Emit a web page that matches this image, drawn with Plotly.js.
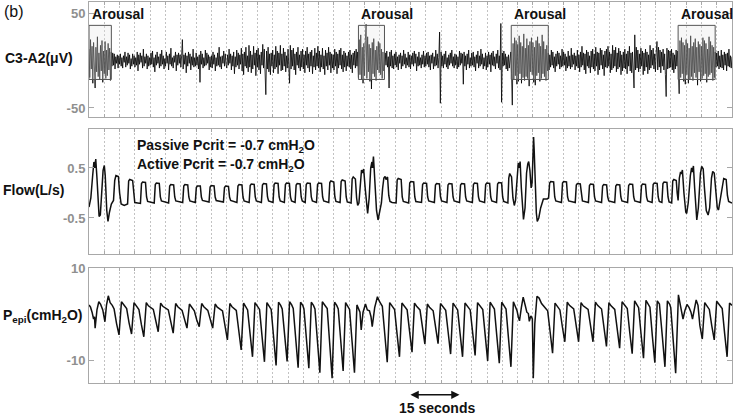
<!DOCTYPE html>
<html><head><meta charset="utf-8">
<script src="https://cdn.plot.ly/plotly-3.0.1.min.js"></script>
<style>html,body{margin:0;padding:0;background:#fff}#chart{width:735px;height:415px}</style>
</head><body><div id="chart"></div>
<script>
// ---- EEG C3-A2 (µV), one value every 0.25 s from t = 0 s ----
const eegStep = 0.25;
const eegVals = [
12,-18,22,-9,15,-24,19,-6,-29,14,-12,25,-17,8,-20,16,-11,21,-23,10,
-14,20,-19,11,-16,18,-10,13,-21,9,-6,8,-5,7,-9,4,-3,6,-8,5,
-4,7,-6,3,-8,5,-2,9,-7,4,-5,8,-3,6,-9,2,-6,7,-4,5,
-7,3,-5,9,-11,6,-4,8,-2,5,-8,12,-6,4,-3,7,-9,5,-6,3,
-5,8,-4,10,-7,3,-12,6,-5,9,-3,4,-8,7,-6,11,-4,5,-9,2,
-6,9,-3,5,-10,7,-4,13,-6,3,-8,5,-2,9,-11,6,-5,8,-3,6,
-7,5,22,-9,6,-4,8,-13,5,-6,9,-3,7,-10,4,-5,12,-7,3,-6,
8,-5,4,-9,6,-23,10,-4,7,-8,3,-6,11,-5,8,-3,6,-10,4,-7,
5,-8,9,-4,6,-11,3,-6,8,-5,14,-7,4,-9,5,-3,10,-6,7,-4,
-8,6,-5,12,-3,7,-10,5,-6,9,-14,4,-7,11,-5,8,-9,6,-4,13,
-11,7,-15,9,-6,14,-8,5,-12,16,-7,10,-13,6,-9,15,-5,8,-16,11,
-7,13,-10,6,-14,9,-5,17,-8,12,-6,-36,10,-9,14,-12,7,-15,8,-6,
11,-13,6,-9,15,-7,10,-14,8,-5,16,-11,7,-10,13,-6,9,-12,5,-8,
12,-7,-24,16,-9,11,-6,13,-10,7,-15,9,-5,14,-8,6,-11,10,-7,12,
-9,6,-13,10,-5,14,-8,7,-12,9,-6,11,-14,5,-7,13,-10,8,-6,15,
-8,10,-12,6,-7,13,-9,5,-15,11,-6,8,-10,14,-5,9,-13,7,-8,6,
-10,12,-6,9,-14,7,-8,11,-5,13,-9,6,-12,10,-7,8,-11,5,-6,9,
-7,11,-9,6,-13,8,-5,10,-8,12,-6,9,-18,22,-15,27,-20,14,-24,18,
-16,21,38,-19,25,-12,17,-22,13,-30,19,-14,23,-17,11,-21,15,-10,20,-13,
18,-15,12,-19,9,-11,-6,8,-5,10,-7,4,-29,9,-6,11,-8,5,-9,7,
-5,9,-7,4,-10,6,-3,8,-9,5,-6,11,-4,7,-8,3,-5,9,-7,6,
-9,5,-4,8,-6,10,-3,7,-11,4,-6,9,-5,3,-8,6,-4,10,-7,5,
-6,8,-4,9,-7,5,-10,6,-3,8,-9,4,-6,11,-5,7,-8,3,30,-45,
9,-6,5,-8,7,-4,10,-7,3,-9,6,-5,8,-3,11,-6,4,-8,7,-5,
6,-9,4,-7,10,-5,8,-3,7,-25,9,-6,5,-10,7,-4,11,-8,3,-6,
8,-5,9,-7,4,-11,6,-3,10,-8,5,-6,12,-4,7,-9,3,-6,8,-10,
5,-7,9,-4,6,-12,8,-5,10,-6,4,-9,7,-3,11,-8,5,-10,39,-44,
8,-6,10,-5,7,-9,4,-11,6,-8,5,9,-14,-47,18,-20,24,-16,21,-25,
17,-22,26,-14,19,-24,15,-18,28,-21,13,-17,23,-19,16,-27,20,-12,24,-15,
19,-23,14,-26,21,-16,25,-13,18,-22,15,-19,27,-14,20,-17,12,-21,16,-11,
8,-10,6,-7,11,-5,9,-8,4,-12,7,-6,10,-4,8,-9,5,-7,12,-6,
9,-5,7,-11,4,-8,10,-6,5,-9,13,-7,6,-4,8,-10,5,-6,11,-8,
6,-12,9,-7,15,-5,8,-10,7,-14,11,-6,9,-8,5,-13,10,-7,12,-9,
7,-11,14,-6,9,-15,8,-10,13,-5,11,-9,6,-16,10,-7,12,-8,15,-6,
9,-13,7,-10,16,-8,11,-6,14,-12,8,-9,13,-7,10,-15,6,-11,9,-8,
12,-9,7,-14,10,-6,15,-11,8,-13,9,-7,-29,27,-10,14,-8,11,-12,7,
-9,13,-6,10,-15,8,-11,12,-7,9,-14,6,-10,16,-8,11,-5,13,-9,7,
-12,8,20,-10,14,-7,11,-13,9,-6,12,-10,7,-15,-38,13,-9,11,-8,10,
-7,12,-10,8,-13,6,-9,11,-6,10,-16,-35,21,-18,24,-14,19,-22,16,-25,
22,-15,18,-24,13,-20,26,-17,15,-21,19,-13,23,-18,14,-26,20,-12,17,-22,
15,-19,24,-16,21,-14,18,-23,12,-17,25,-15,20,-13,16,-21,14,-18,9,-7,
8,-6,10,-9,5,-7,11,-8,6,-10,9,-5,7,-11,8,-6,12,-7,5,-8,
4
];

// ---- Flow (L/s): [time s, value] vertices ----
const flowPts = [
[0,-0.28],[0.6,-0.1],[1.2,0.35],[1.6,0.62],[1.9,0.5],[2.2,0.68],[2.6,0.3],[3.0,-0.3],[3.3,-0.47],[3.7,-0.44],
[4.2,-0.05],[4.6,0.45],[5.0,0.55],[5.3,0.35],[5.8,-0.35],[6.2,-0.57],[6.7,-0.38],[7.3,-0.22],
[8.0,-0.15],[8.4,0.25],[8.8,0.35],[9.6,0.33],[10.0,0.0],[10.5,-0.22],[11.5,-0.25],[12.3,-0.22],
[12.6,-0.22],[12.95,0.24],[13.3,0.27],[14.25,0.25],[14.6,-0.08],[14.95,-0.19],
[16.8,-0.21],[17.15,0.19],[17.5,0.22],[18.45,0.21],[18.8,-0.08],[19.15,-0.17],
[21.3,-0.2],[21.65,0.17],[22.0,0.2],[22.95,0.19],[23.3,-0.08],[23.65,-0.16],
[26.0,-0.2],[26.35,0.14],[26.7,0.17],[27.65,0.16],[28.0,-0.08],[28.35,-0.16],
[30.6,-0.19],[30.95,0.14],[31.3,0.17],[32.25,0.16],[32.6,-0.08],[32.95,-0.16],
[34.7,-0.19],[35.05,0.11],[35.4,0.14],[36.35,0.14],[36.7,-0.08],[37.05,-0.15],
[39.2,-0.18],[39.55,0.12],[39.9,0.15],[40.85,0.14],[41.2,-0.08],[41.55,-0.15],
[43.9,-0.18],[44.25,0.11],[44.6,0.14],[45.55,0.13],[45.9,-0.08],[46.25,-0.15],
[48.3,-0.19],[48.65,0.14],[49.0,0.17],[49.95,0.16],[50.3,-0.08],[50.65,-0.16],
[52.3,-0.19],[52.65,0.15],[53.0,0.18],[53.95,0.17],[54.3,-0.08],[54.65,-0.16],
[56.3,-0.19],[56.65,0.16],[57.0,0.19],[57.95,0.18],[58.3,-0.08],[58.65,-0.16],
[60.1,-0.19],[60.45,0.17],[60.8,0.2],[61.75,0.19],[62.1,-0.08],[62.45,-0.16],
[63.8,-0.19],[64.15,0.17],[64.5,0.2],[65.45,0.19],[65.8,-0.08],[66.15,-0.16],
[67.3,-0.19],[67.65,0.16],[68.0,0.19],[68.95,0.18],[69.3,-0.08],[69.65,-0.16],
[70.6,-0.19],[70.95,0.17],[71.3,0.2],[72.25,0.19],[72.6,-0.08],[72.95,-0.16],
[74.3,-0.19],[74.65,0.17],[75.0,0.2],[75.95,0.19],[76.3,-0.08],[76.65,-0.16],
[78.3,-0.19],[78.65,0.21],[79.0,0.24],[79.95,0.22],[80.3,-0.08],[80.65,-0.17],
[82.0,-0.19],[82.35,0.23],[82.7,0.26],[83.65,0.24],[84.0,-0.08],[84.35,-0.18],
[85.6,-0.2],[85.95,0.28],[86.3,0.32],[87.0,0.28],[87.4,-0.1],[87.75,-0.25],[88.15,-0.2],
[88.6,0.2],[89.0,0.46],[89.4,0.4],[89.7,0.48],[90.2,0.1],[90.7,-0.35],[91.0,-0.41],[91.5,-0.1],
[92.0,0.5],[92.4,0.62],[92.6,0.5],[92.9,0.73],[93.3,0.3],[93.9,-0.35],[94.4,-0.54],[94.9,-0.4],[95.5,-0.2],
[95.9,0.1],[96.3,0.3],[96.7,0.33],[97.0,0.27],[97.5,0.32],[97.9,-0.05],[98.3,-0.17],[99.0,-0.19],
[100.3,-0.2],[100.65,0.26],[101.0,0.29],[101.95,0.27],[102.3,-0.08],[102.65,-0.17],
[104.4,-0.2],[104.75,0.2],[105.1,0.23],[106.05,0.22],[106.4,-0.08],[106.75,-0.17],
[108.6,-0.19],[108.95,0.17],[109.3,0.2],[110.25,0.19],[110.6,-0.08],[110.95,-0.16],
[112.8,-0.19],[113.15,0.16],[113.5,0.19],[114.45,0.18],[114.8,-0.08],[115.15,-0.16],
[116.9,-0.19],[117.25,0.16],[117.6,0.19],[118.55,0.18],[118.9,-0.08],[119.25,-0.16],
[121.0,-0.19],[121.35,0.16],[121.7,0.19],[122.65,0.18],[123.0,-0.08],[123.35,-0.16],
[125.2,-0.19],[125.55,0.17],[125.9,0.2],[126.85,0.19],[127.2,-0.08],[127.55,-0.16],
[129.2,-0.19],[129.55,0.17],[129.9,0.2],[130.85,0.19],[131.2,-0.08],[131.55,-0.16],
[133.1,-0.19],[133.45,0.18],[133.8,0.21],[134.75,0.2],[135.1,-0.08],[135.45,-0.17],
[136.8,-0.2],[137.1,0.3],[137.4,0.39],[138.0,0.32],[138.45,-0.1],[138.9,-0.25],[139.3,-0.15],
[139.8,0.4],[140.2,0.6],[140.5,0.5],[140.8,0.63],[141.2,0.1],[141.6,-0.4],[141.9,-0.53],[142.4,-0.3],
[142.9,0.4],[143.3,0.58],[143.6,0.63],[144.0,0.45],[144.4,0.1],[144.7,0.2],[145.0,0.9],[145.2,1.12],[145.4,0.85],
[145.7,0.2],[146.1,-0.4],[146.4,-0.57],[146.9,-0.5],[147.5,-0.3],[148.4,-0.12],[149.6,-0.12],
[150.1,-0.1],[150.45,0.2],[150.8,0.23],[151.75,0.22],[152.1,-0.08],[152.45,-0.16],
[154.3,-0.19],[154.65,0.2],[155.0,0.23],[155.95,0.22],[156.3,-0.08],[156.65,-0.16],
[158.8,-0.19],[159.15,0.16],[159.5,0.19],[160.45,0.18],[160.8,-0.08],[161.15,-0.16],
[163.1,-0.19],[163.45,0.15],[163.8,0.18],[164.75,0.17],[165.1,-0.08],[165.45,-0.16],
[167.4,-0.19],[167.75,0.14],[168.1,0.17],[169.05,0.16],[169.4,-0.08],[169.75,-0.16],
[171.7,-0.19],[172.05,0.14],[172.4,0.17],[173.35,0.16],[173.7,-0.08],[174.05,-0.16],
[175.9,-0.19],[176.25,0.15],[176.6,0.18],[177.55,0.17],[177.9,-0.08],[178.25,-0.16],
[180.1,-0.19],[180.45,0.15],[180.8,0.18],[181.75,0.17],[182.1,-0.08],[182.45,-0.16],
[183.9,-0.19],[184.25,0.17],[184.6,0.2],[185.55,0.19],[185.9,-0.08],[186.25,-0.17],
[187.1,-0.19],[187.45,0.19],[187.8,0.22],[188.75,0.21],[189.1,-0.08],[189.45,-0.18],
[190.3,-0.2],[190.65,0.24],[191.0,0.27],[191.8,0.25],[192.1,0.0],[192.4,-0.15],
[192.8,0.3],[193.2,0.42],[193.5,0.38],[193.8,0.46],[194.3,0.0],[194.9,-0.38],[195.2,-0.41],[195.7,-0.2],
[196.4,0.35],[196.8,0.5],[197.1,0.42],[197.4,0.54],[197.8,0.1],[198.2,-0.45],[198.5,-0.54],[199.0,-0.3],
[199.7,0.4],[200.1,0.53],[200.6,0.48],[201.0,0.1],[201.6,-0.35],[202.2,-0.44],[202.7,-0.3],
[203.3,0.3],[203.7,0.43],[204.2,0.4],[204.7,0.0],[205.2,-0.3],[205.6,-0.34],[206.1,-0.15],
[206.8,0.15],[207.3,0.29],[208.1,0.27],[208.5,-0.05],[208.9,-0.17],[210,-0.2]
];

// ---- Epiglottic pressure (cmH2O): [time s, value] vertices ----
const presPts = [
[0,2.1],[0.5,1.6],[1.0,0.5],[1.5,-1.0],[1.8,-0.5],[2.0,-3.0],[2.6,1.0],[3.2,2.8],[3.8,2.2],[4.5,1.0],[5.2,-1.6],
[5.7,2.0],[6.3,4.1],[6.9,2.6],[7.6,2.0],[8.2,1.2],[9.0,-2.0],[9.8,-4.5],
[10.6,2.8],[11.3,2.1],[12.3,1.3],[13.1,-1.9],[13.9,-4.3],
[14.7,2.6],[15.4,1.9],[16.3,1.1],[17.1,-2.2],[17.9,-4.9],
[18.7,2.6],[19.4,1.9],[21.0,1.1],[21.8,-1.7],[22.6,-3.8],
[23.4,2.5],[24.1,1.8],[25.9,1.0],[26.7,-1.8],[27.5,-4.1],
[28.3,2.4],[29.0,1.7],[30.4,0.9],[31.2,-1.3],[32.0,-3.0],
[32.8,2.3],[33.5,1.6],[34.4,0.8],[35.2,-1.2],[36.0,-2.7],
[36.8,2.4],[37.5,1.7],[38.8,0.9],[39.6,-1.3],[40.4,-3.0],
[41.2,2.3],[41.9,1.6],[43.6,0.8],[44.4,-2.5],[45.2,-5.6],
[46.0,2.4],[46.7,1.7],[48.1,0.9],[48.9,-3.5],[49.7,-7.8],
[50.5,2.5],[51.2,1.8],[51.8,1.0],[52.6,-4.2],[53.4,-9.3],
[54.2,2.6],[54.9,1.9],[55.7,1.1],[56.5,-4.7],[57.3,-10.4],
[58.1,2.6],[58.8,1.9],[59.5,1.1],[60.3,-5.0],[61.1,-11.2],
[61.9,2.7],[62.6,2.0],[63.1,1.2],[63.9,-4.6],[64.7,-10.3],
[65.5,2.8],[66.2,2.1],[66.7,1.3],[67.5,-5.3],[68.3,-11.7],
[69.1,2.7],[69.8,2.0],[70.2,1.2],[71.0,-5.3],[71.8,-11.8],
[72.6,2.7],[73.3,2.0],[73.8,1.2],[74.6,-5.8],[75.4,-12.8],
[76.2,2.8],[76.9,2.1],[77.8,1.3],[78.6,-6.3],[79.4,-14.0],
[80.2,2.7],[80.9,2.0],[81.4,1.2],[82.2,-5.6],[83.0,-12.4],
[83.8,2.6],[84.5,1.9],[85.1,1.1],[85.9,-5.8],[86.7,-12.8],
[87.5,2.1],[88.1,1.0],[88.5,0.5],[88.9,-3.4],[89.5,0.5],[90.3,2.3],[90.9,1.0],[91.6,0.8],[92.1,-0.5],[92.5,-2.7],
[93.3,1.5],[94.2,3.9],[94.9,2.8],[95.8,1.8],[96.6,-4.7],[97.4,-10.5],
[98.2,2.6],[98.9,1.9],[99.8,1.1],[100.6,-4.2],[101.4,-9.3],
[102.2,2.5],[102.9,1.8],[103.9,1.0],[104.7,-3.7],[105.5,-8.3],
[106.3,2.5],[107.0,1.8],[108.1,1.0],[108.9,-2.9],[109.7,-6.5],
[110.5,2.3],[111.2,1.6],[112.4,0.8],[113.2,-2.9],[114.0,-6.4],
[114.8,2.4],[115.5,1.7],[116.5,0.9],[117.3,-3.9],[118.1,-8.7],
[118.9,2.5],[119.6,1.8],[120.4,1.0],[121.2,-4.2],[122.0,-9.3],
[122.8,2.5],[123.5,1.8],[124.5,1.0],[125.3,-4.0],[126.1,-9.0],
[126.9,2.6],[127.6,1.9],[128.6,1.1],[129.4,-4.6],[130.2,-10.2],
[131.0,2.7],[131.7,2.0],[132.4,1.2],[133.2,-4.8],[134.0,-10.7],
[134.8,2.7],[135.5,2.0],[136.2,1.2],[137.0,-5.2],[137.8,-11.5],
[138.6,2.8],[139.2,1.8],[139.8,0.8],[140.2,-0.5],[140.6,-1.4],[141.2,1.5],[141.8,3.8],[142.4,2.2],[143.0,0.5],
[143.5,0.2],[143.8,-1.5],[144.3,-0.3],[144.8,-1.0],[145.1,-14.0],[145.6,-2.0],[146.3,4.0],[147.0,3.6],[147.8,2.4],
[148.9,1.4],[149.8,0.8],[150.6,-3.8],[151.4,-8.5],
[152.2,2.5],[152.9,1.8],[153.8,1.0],[154.6,-2.7],[155.4,-6.0],
[156.2,2.7],[156.9,2.0],[158.3,1.2],[159.1,-2.7],[159.9,-6.0],
[160.7,2.6],[161.4,1.9],[163.0,1.1],[163.8,-2.7],[164.6,-6.0],
[165.4,2.7],[166.1,2.0],[167.4,1.2],[168.2,-3.2],[169.0,-7.0],
[169.8,2.6],[170.5,1.9],[171.7,1.1],[172.5,-3.3],[173.3,-7.4],
[174.1,2.8],[174.8,2.1],[175.8,1.3],[176.6,-3.9],[177.4,-8.6],
[178.2,3.0],[178.9,2.3],[179.5,1.5],[180.3,-4.3],[181.1,-9.6],
[181.9,3.1],[182.6,2.4],[183.2,1.6],[184.0,-4.8],[184.8,-10.6],
[185.6,3.0],[186.3,2.3],[187.3,-5.2],[188.1,-11.5],
[188.9,3.0],[189.6,2.3],[190.0,1.5],[190.8,-5.8],[191.6,-12.9],
[192.5,4.3],[193.0,2.5],[193.5,0.5],[194.0,-1.0],[194.6,0.8],[195.3,2.2],[196.0,1.5],[196.6,0.5],[197.1,-1.0],
[197.7,1.5],[198.3,3.2],[198.9,2.0],[199.5,-2.4],[200.3,-5.4],
[201.1,2.6],[201.8,1.9],[202.6,1.1],[203.4,-2.5],[204.2,-5.6],
[205.0,2.9],[205.7,2.2],[206.8,1.3],[207.6,-4.2],[208.4,-9.3],[209.2,2.5],[210,2.0]
];

// ---- Arousal windows (s) ----
const arousalStart = [0, 88.0, 137.9, 192.4];
const arousalEnd = [7.3, 96.5, 150.0, 204.5];
const arousalLabel = ['Arousal', 'Arousal', 'Arousal', 'Arousal'];

// ---- Axis ticks ----
const eegTickVals = [-50, 50];
const eegTickText = ['-50', '50'];
const flowTickVals = [-0.5, 0.5];
const flowTickText = ['-0.5', '0.5'];
const presTickVals = [-10, 10];
const presTickText = ['-10', '10'];
const timeRange = [0, 210];
const gridStep = 5;

const FONT = 'Liberation Sans, Arial, Helvetica, sans-serif';
const AXC = '#a8a8a8';

function xAx(anchor) {
  return {
    anchor: anchor, range: timeRange, tick0: 0, dtick: gridStep,
    showticklabels: false, ticks: 'inside', ticklen: 3, tickcolor: AXC,
    showgrid: true, gridcolor: '#c2c2c2', griddash: '2px,2px', gridwidth: 1,
    showline: true, mirror: 'ticks', linecolor: AXC, linewidth: 1,
    zeroline: false, fixedrange: true
  };
}
function yAx(anchor, domain, range, vals, text) {
  return {
    anchor: anchor, domain: domain, range: range,
    tickmode: 'array', tickvals: vals, ticktext: text.map(t => '<b>' + t + '</b>'),
    tickfont: {family: FONT, size: 13, color: '#8f8f8f'},
    ticks: 'inside', ticklen: 5, tickcolor: AXC,
    showline: true, mirror: 'ticks', linecolor: AXC, linewidth: 1,
    showgrid: false, zeroline: false, fixedrange: true
  };
}

const traces = [
  {x0: 0, dx: eegStep, y: eegVals, xaxis: 'x', yaxis: 'y', mode: 'lines',
   line: {color: '#000', width: 0.8}, hoverinfo: 'skip'},
  {x: flowPts.map(p => p[0]), y: flowPts.map(p => p[1]), xaxis: 'x2', yaxis: 'y2', mode: 'lines',
   line: {color: '#111', width: 1.5}, hoverinfo: 'skip'},
  {x: presPts.map(p => p[0]), y: presPts.map(p => p[1]), xaxis: 'x3', yaxis: 'y3', mode: 'lines',
   line: {color: '#111', width: 1.5}, hoverinfo: 'skip'}
];

const shapes = arousalStart.map((s, i) => ({
  type: 'rect', xref: 'x', yref: 'y', x0: s, x1: arousalEnd[i], y0: -20, y1: 37,
  fillcolor: 'rgba(228,228,228,0.3)', line: {color: '#555', width: 1}, layer: 'above'
}));

const ann = [];
arousalStart.forEach((s, i) => {
  ann.push({xref: 'x', yref: 'paper', x: s + 0.3, y: 0.9685, xanchor: 'left', yanchor: 'middle',
    text: '<b>' + arousalLabel[i] + '</b>', showarrow: false, font: {family: FONT, size: 14, color: '#111'}});
});
const lab = (txt, x, y, size) => ({xref: 'paper', yref: 'paper', x: x, y: y, xanchor: 'left', yanchor: 'middle',
  text: txt, showarrow: false, font: {family: FONT, size: size, color: '#111'}});
ann.push(lab('(b)', -0.136, 0.974, 16));
ann.push(lab('<b>C3-A2(μV)</b>', -0.134, 0.853, 14));
ann.push(lab('<b>Flow(L/s)</b>', -0.137, 0.507, 14));
ann.push(lab('<b>P<sub>epi</sub>(cmH<sub>2</sub>O)</b>', -0.137, 0.176, 14));
ann.push({xref: 'x2', yref: 'paper', x: 15, y: 0.622, xanchor: 'left', yanchor: 'middle', showarrow: false,
  text: '<b>Passive Pcrit = -0.7 cmH<sub>2</sub>O</b>', font: {family: FONT, size: 14, color: '#111'}});
ann.push({xref: 'x2', yref: 'paper', x: 15, y: 0.572, xanchor: 'left', yanchor: 'middle', showarrow: false,
  text: '<b>Active Pcrit = -0.7 cmH<sub>2</sub>O</b>', font: {family: FONT, size: 14, color: '#111'}});
ann.push({xref: 'x3', yref: 'paper', x: 113.5, y: -0.066, xanchor: 'center', yanchor: 'middle', showarrow: false,
  text: '<b>15 seconds</b>', font: {family: FONT, size: 14, color: '#111'}});
ann.push({xref: 'x3', yref: 'paper', axref: 'x3', ayref: 'paper', x: 121, y: -0.031, ax: 104.5, ay: -0.031,
  text: '', showarrow: true, arrowhead: 2, startarrowhead: 2, arrowside: 'end+start',
  arrowsize: 1.1, startarrowsize: 1.1, arrowwidth: 1.5, arrowcolor: '#111'});

const layout = {
  width: 735, height: 415, margin: {l: 89, r: 3, t: 2, b: 32},
  paper_bgcolor: '#fff', plot_bgcolor: '#fff', showlegend: false,
  font: {family: FONT, size: 13, color: '#111'},
  xaxis: xAx('y'), xaxis2: xAx('y2'), xaxis3: xAx('y3'),
  yaxis: yAx('x', [0.6982, 1], [-59.5, 61.6], eegTickVals, eegTickText),
  yaxis2: yAx('x2', [0.3386, 0.6667], [-1.22, 1.28], flowTickVals, flowTickText),
  yaxis3: yAx('x3', [0, 0.3018], [-15.05, 10.2], presTickVals, presTickText),
  shapes: shapes, annotations: ann
};

Plotly.newPlot('chart', traces, layout, {staticPlot: true, displayModeBar: false});
</script>
</body></html>
